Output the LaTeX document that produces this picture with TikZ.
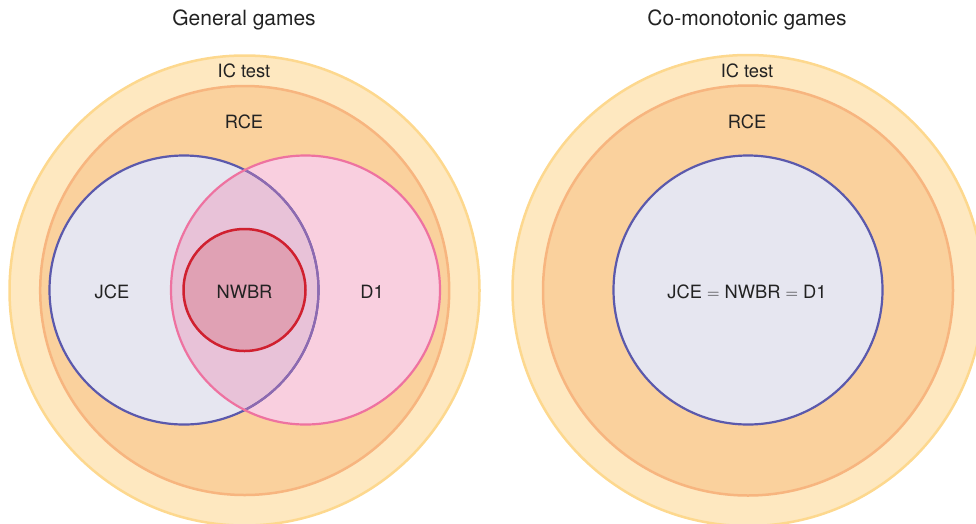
\documentclass[tikz,border=0pt]{standalone}
\usepackage{fontspec}
\setmainfont{TeX Gyre Heros}
\definecolor{icfill}{HTML}{FEE8C0}
\definecolor{icline}{HTML}{FDD88E}
\definecolor{rcefill}{HTML}{FAD19D}
\definecolor{rceline}{HTML}{F7B57F}
\definecolor{jcefill}{HTML}{E6E6F0}
\definecolor{jceline}{HTML}{5B59AC}
\definecolor{jcelinein}{HTML}{8E6AB0}
\definecolor{dfill}{HTML}{F9CFDF}
\definecolor{dline}{HTML}{EE72A0}
\definecolor{lensfill}{HTML}{E8C2D8}
\definecolor{nwfill}{HTML}{E0A1B4}
\definecolor{nwline}{HTML}{D0202F}
\definecolor{txt}{HTML}{222222}
\begin{document}
\begin{tikzpicture}[x=1pt,y=-1pt,
  lbl/.style={text=txt,font=\fontsize{18.3}{22}\selectfont,inner sep=0pt},
  ttl/.style={text=txt,font=\fontsize{21}{25}\selectfont,inner sep=0pt}]
\useasboundingbox (0,0) rectangle (976,523);
\clip (0,0) rectangle (976,523);
% ---------- left panel ----------
\draw[icline,fill=icfill,line width=2.5pt] (244.5,290.5) circle (235);
\draw[rceline,fill=rcefill,line width=2.5pt] (244.7,290.5) circle (204.5);
\fill[jcefill] (184,290) circle (134.5);
\fill[dfill] (305.5,290) circle (134.5);
\begin{scope}
  \clip (184,290) circle (134.5);
  \fill[lensfill] (305.5,290) circle (134.5);
\end{scope}
\draw[jceline,line width=2.2pt] (184,290) circle (134.5);
\begin{scope}
  \clip (305.5,290) circle (134.5);
  \draw[jcelinein,line width=2.2pt] (184,290) circle (134.5);
\end{scope}
\draw[dline,line width=2.2pt] (305.5,290) circle (134.5);
\draw[nwline,fill=nwfill,line width=2.5pt] (244.5,290) circle (61);
% labels left
\node[ttl] (t1) at (244,20) {General games};
\node[lbl] (ic1) at (244,71) {IC test};
\node[lbl] (rce1) at (244,122) {RCE};
\node[lbl] (jce1) at (112,292) {JCE};
\node[lbl] (nw1) at (244.5,292) {NWBR};
\node[lbl] (d1) at (372,292) {D1};
% ---------- right panel ----------
\draw[icline,fill=icfill,line width=2.5pt] (748,290.5) circle (235.5);
\draw[rceline,fill=rcefill,line width=2.5pt] (748,290.5) circle (205);
\draw[jceline,fill=jcefill,line width=2.2pt] (748,290) circle (134.5);
\node[ttl] (t2) at (747,20) {Co-monotonic games};
\node[lbl] (ic2) at (747,71) {IC test};
\node[lbl] (rce2) at (747,122) {RCE};
\node[lbl] (eq2) at (747,292) {JCE $=$ NWBR $=$ D1};
\end{tikzpicture}
\end{document}
